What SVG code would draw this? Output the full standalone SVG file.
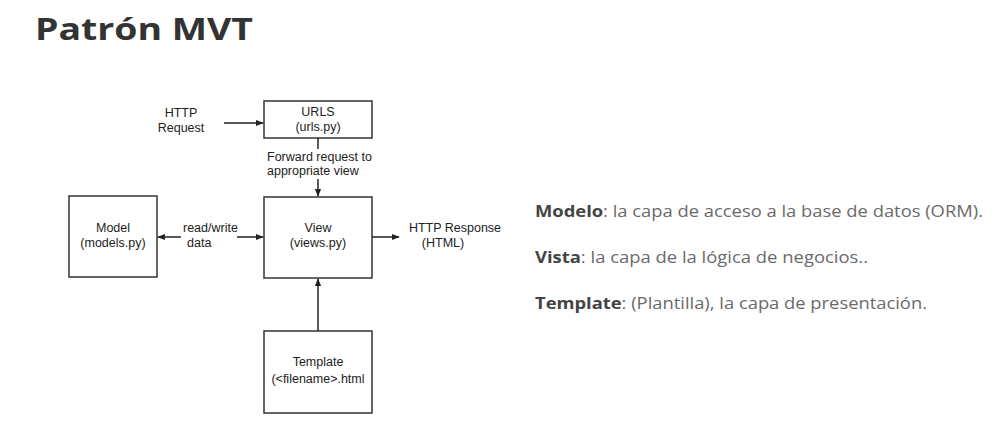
<svg xmlns="http://www.w3.org/2000/svg" width="1000" height="436" viewBox="0 0 1000 436">
<defs>
<style>
.box{fill:#fff;stroke:#333;stroke-width:1.5}
.lbl{font-family:"Liberation Sans",Arial,sans-serif;font-size:12.5px;fill:#222;text-anchor:middle}
.lft{text-anchor:start}
.ln{stroke:#222;stroke-width:1.5;fill:none}
.desc{font-family:"Open Sans","Noto Sans",sans-serif;font-size:16px;fill:#6a6a6a}
.desc .b{font-weight:700;fill:#444}
</style>
<marker id="ah" viewBox="0 0 10 10" refX="9" refY="5" markerWidth="8" markerHeight="8" markerUnits="userSpaceOnUse" orient="auto">
<path d="M0,1 L10,5 L0,9 z" fill="#222"/>
</marker>
</defs>
<rect width="1000" height="436" fill="#fff"/>
<text x="35" y="40" font-family="'Open Sans','Noto Sans',sans-serif" font-size="31" font-weight="700" fill="#333" textLength="218" lengthAdjust="spacingAndGlyphs">Patrón MVT</text>

<g id="http-request">
<text class="lbl" x="181" y="117">HTTP</text>
<text class="lbl" x="181" y="132">Request</text>
</g>
<g id="urls">
<rect class="box" x="264" y="101" width="108" height="37"/>
<text class="lbl" x="318" y="116">URLS</text>
<text class="lbl" x="318" y="131">(urls.py)</text>
</g>
<g id="model">
<rect class="box" x="69" y="196" width="88" height="81"/>
<text class="lbl" x="113" y="232">Model</text>
<text class="lbl" x="113" y="247">(models.py)</text>
</g>
<g id="view">
<rect class="box" x="264" y="197" width="108" height="81"/>
<text class="lbl" x="318" y="232">View</text>
<text class="lbl" x="318" y="247">(views.py)</text>
</g>
<g id="http-response">
<text class="lbl" x="455" y="232">HTTP Response</text>
<text class="lbl" x="443" y="247">(HTML)</text>
</g>
<g id="template">
<rect class="box" x="264" y="331" width="108" height="82"/>
<text class="lbl" x="318" y="366">Template</text>
<text class="lbl" x="318" y="383">(&lt;filename&gt;.html</text>
</g>

<g id="connectors">
<line class="ln" x1="224" y1="123" x2="263" y2="123" marker-end="url(#ah)"/>
<line class="ln" x1="318" y1="138" x2="318" y2="149"/>
<text class="lbl lft" x="267" y="161">Forward request to</text>
<text class="lbl lft" x="267" y="175">appropriate view</text>
<line class="ln" x1="318" y1="179" x2="318" y2="196" marker-end="url(#ah)"/>
<line class="ln" x1="181" y1="237" x2="158" y2="237" marker-end="url(#ah)"/>
<text class="lbl lft" x="183" y="232">read/write</text>
<text class="lbl lft" x="187" y="247">data</text>
<line class="ln" x1="237" y1="237" x2="263" y2="237" marker-end="url(#ah)"/>
<line class="ln" x1="372" y1="237" x2="399" y2="237" marker-end="url(#ah)"/>
<line class="ln" x1="318" y1="331" x2="318" y2="279" marker-end="url(#ah)"/>
</g>

<g id="descriptions">
<text class="desc" x="535" y="217" textLength="448" lengthAdjust="spacingAndGlyphs"><tspan class="b">Modelo</tspan>: la capa de acceso a la base de datos (ORM).</text>
<text class="desc" x="535" y="263" textLength="333" lengthAdjust="spacingAndGlyphs"><tspan class="b">Vista</tspan>: la capa de la lógica de negocios..</text>
<text class="desc" x="535" y="309" textLength="392" lengthAdjust="spacingAndGlyphs"><tspan class="b">Template</tspan>: (Plantilla), la capa de presentación.</text>
</g>
</svg>
